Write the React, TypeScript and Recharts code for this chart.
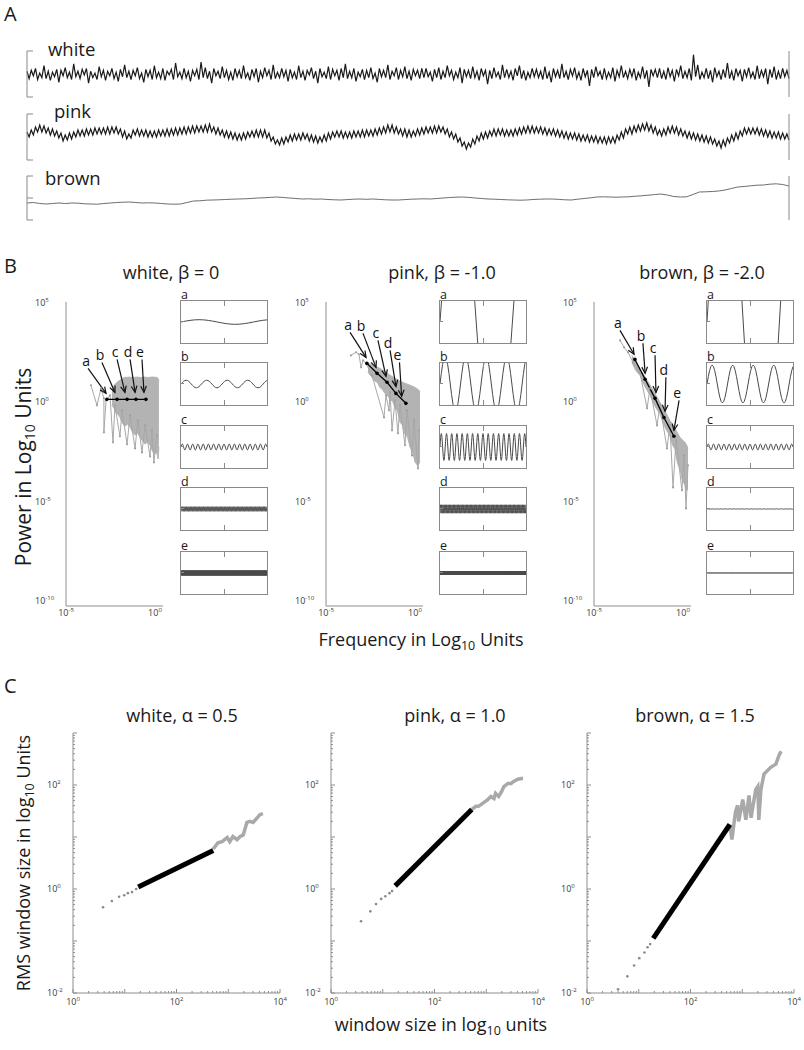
import React from 'react';
import { LineChart, ComposedChart, Line, Area, XAxis, YAxis, ReferenceLine } from 'recharts';

const FONT = '"Open Sans", "DejaVu Sans", sans-serif';
const AXIS = '#8e8e8e';
const BRACKET = '#8a8a8a';
const CLOUD = '#b3b3b3';
const TICK_TEXT = '#3a3a3a';

// ---------- panel A: the three raw signals (arbitrary amplitude units) ----------
const WHITE_SIGNAL = [
  0.3, -0.5, 0.4, -0.2, 0.6, -0.6, 0.1, -0.4, 0.9, -0.5, 0.3, -0.7, 0.2, -0.3, 0.5, -0.9, 0.4, -0.2, 0.7, -0.4,
  0.2, -0.6, 1.1, -0.3, 0.3, -0.5, 0.5, -0.1, 0.6, -1.0, 0.3, -0.4, 0.1, -0.6, 0.8, -0.3, 0.4, -0.7, 0.3, -0.2,
  0.6, -0.5, 0.2, -0.8, 0.5, -0.3, 1.0, -0.4, 0.3, -0.6, 0.4, -0.2, 0.7, -0.5, 0.1, -0.9, 0.5, -0.3, 0.4, -0.6,
  0.9, -0.4, 0.2, -0.5, 0.6, -0.7, 0.3, -0.1, 0.5, -0.6, 1.2, -0.3, 0.2, -0.5, 0.6, -0.4, 0.3, -0.8, 0.4, -0.2,
  0.5, -0.6, 1.3, -0.4, 0.7, -0.5, 0.3, -1.0, 0.6, -0.2, 0.3, -0.5, 0.8, -0.4, 0.4, -0.6, 0.2, -0.7, 0.6, -0.3,
  0.4, -0.5, 0.9, -0.4, 0.1, -0.7, 0.5, -0.3, 0.6, -0.9, 0.3, -0.4, 0.7, -0.2, 0.4, -0.6, 1.0, -0.5, 0.2, -0.4,
  0.6, -0.3, 0.4, -0.8, 0.5, -0.4, 0.2, -0.6, 0.9, -0.4, 0.3, -0.7, 0.4, -0.1, 0.7, -0.5, 0.3, -1.0, 0.6, -0.3,
  0.2, -0.5, 0.8, -0.6, 0.5, -0.2, 0.4, -0.7, 0.6, -0.4, 1.1, -0.5, 0.3, -0.4, 0.6, -0.8, 0.2, -0.3, 0.5, -0.6,
  0.4, -0.4, 0.7, -0.5, 0.1, -0.9, 0.6, -0.3, 0.4, -0.4, 1.0, -0.6, 0.3, -0.2, 0.7, -0.6, 0.4, -0.3, 0.8, -0.5,
  0.3, -0.7, 0.5, -0.2, 0.4, -0.5, 0.6, -0.4, 0.6, -0.3, 0.2, -0.8, 0.5, -0.4, 0.7, -0.6, 0.3, -0.4, 0.9, -0.2,
  0.4, -0.6, 0.2, -0.4, 0.7, -1.0, 0.5, -0.3, 0.4, -0.5, 0.8, -0.4, 0.3, -0.7, 0.6, -0.2, 0.4, -1.1, 0.4, -0.5,
  0.7, -0.3, 0.2, -0.6, 1.0, -0.4, 0.5, -0.4, 0.3, -0.7, 0.6, -0.2, 0.9, -0.5, 0.4, -0.7, 0.2, -0.4, 0.6, -0.3,
  0.5, -0.4, 0.3, -0.6, 0.8, -0.5, 0.2, -0.9, 0.6, -0.3, 0.4, -0.5, 1.1, -0.4, 0.3, -0.6, 0.5, -0.2, 0.7, -0.5,
  0.2, -0.7, 0.6, -0.3, 0.4, -1.3, 0.5, -0.4, 0.8, -0.2, 0.3, -0.6, 0.6, -0.5, 0.2, -0.4, 0.7, -0.8, 0.4, -0.3,
  0.9, -0.4, 0.3, -0.5, 0.5, -0.3, 0.6, -0.7, 0.2, -0.4, 0.8, -0.5, 0.4, -1.4, 0.5, -0.2, 0.5, -0.4, 0.6, -0.5,
  0.3, -0.6, 0.7, -0.3, 0.4, -0.8, 0.5, -0.2, 0.9, -0.5, 0.3, -0.4, 0.6, -0.7, 2.1, -0.3, 1.0, -0.6, 0.2, -0.4,
  0.6, -0.5, 0.4, -0.9, 0.7, -0.3, 0.3, -0.6, 0.5, -0.4, 1.2, -0.5, 0.3, -0.7, 0.6, -0.2, 0.4, -0.8, 0.5, -0.3,
  0.7, -0.4, 0.2, -0.6, 0.9, -0.5, 0.4, -0.3, 0.6, -1.1, 0.5, -0.4, 0.8, -0.6, 0.3, -0.5, 0.6, -0.3, 0.4, -0.5,
];

const PINK_SIGNAL = [
  0.5, 0.0, 0.7, 0.2, 1.0, 0.5, 1.2, 0.5, 1.1, 0.4, 0.9, 0.2, 0.8, 0.1, 0.6, -0.1, 0.4, -0.4, 0.2, -0.3,
  0.4, -0.2, 0.5, 0.0, 0.7, 0.1, 0.7, 0.1, 0.8, 0.2, 0.8, 0.2, 0.9, 0.3, 0.9, 0.3, 0.9, 0.3, 1.0, 0.3,
  1.0, 0.4, 1.0, 0.3, 0.8, 0.0, 0.6, -0.2, 0.3, -0.1, 0.7, 0.2, 0.8, 0.1, 0.7, 0.1, 0.7, 0.0, 0.6, 0.0,
  0.6, 0.0, 0.7, 0.1, 0.7, 0.1, 0.8, 0.1, 0.8, 0.2, 0.9, 0.2, 0.9, 0.3, 1.0, 0.3, 1.0, 0.4, 1.1, 0.4,
  1.1, 0.5, 1.1, 0.5, 1.2, 0.5, 1.3, 0.5, 1.0, 0.3, 0.9, 0.2, 0.7, 0.0, 0.6, -0.1, 0.5, -0.2, 0.4, -0.3,
  0.3, -0.3, 0.4, -0.2, 0.5, 0.0, 0.6, 0.0, 0.7, 0.0, 0.7, 0.0, 0.7, -0.1, 0.4, -0.4, 0.0, -0.7, -0.3, -0.8,
  -0.1, -0.7, 0.0, -0.5, 0.2, -0.4, 0.3, -0.3, 0.3, -0.3, 0.4, -0.2, 0.3, -0.4, 0.2, -0.5, 0.1, -0.6, 0.0, -0.5,
  0.2, -0.4, 0.4, -0.2, 0.5, 0.0, 0.6, 0.0, 0.6, -0.1, 0.5, -0.1, 0.5, -0.1, 0.6, 0.0, 0.6, 0.0, 0.7, 0.0,
  0.7, 0.1, 0.7, 0.1, 0.8, 0.2, 0.9, 0.3, 1.0, 0.4, 1.2, 0.5, 1.2, 0.4, 1.0, 0.3, 0.8, 0.1, 0.8, 0.0,
  0.7, 0.0, 0.6, 0.1, 0.8, 0.2, 0.9, 0.3, 1.0, 0.4, 1.0, 0.4, 1.1, 0.4, 1.1, 0.5, 1.0, 0.3, 0.8, 0.0,
  0.5, -0.2, 0.3, -0.5, -0.1, -0.9, -0.5, -1.2, -0.6, -1.0, -0.2, -0.7, 0.1, -0.4, 0.4, -0.2, 0.5, -0.1, 0.6, 0.1,
  0.8, 0.1, 0.8, 0.2, 0.8, 0.1, 0.7, 0.1, 0.7, 0.1, 0.8, 0.2, 0.9, 0.3, 1.0, 0.4, 1.1, 0.4, 1.1, 0.4,
  1.0, 0.4, 1.0, 0.3, 0.9, 0.2, 0.8, 0.2, 0.8, 0.1, 0.7, 0.0, 0.6, -0.1, 0.5, -0.2, 0.4, -0.2, 0.4, -0.3,
  0.3, -0.4, 0.2, -0.4, 0.2, -0.5, 0.1, -0.5, 0.1, -0.6, 0.0, -0.6, 0.0, -0.7, 0.0, -0.6, 0.0, -0.6, 0.2, -0.3,
  0.5, -0.1, 0.8, 0.3, 1.0, 0.3, 1.1, 0.5, 1.2, 0.6, 1.3, 0.7, 1.4, 0.6, 1.2, 0.4, 1.0, 0.2, 0.7, 0.1,
  0.8, 0.2, 1.0, 0.4, 1.1, 0.4, 1.0, 0.2, 0.8, 0.1, 0.6, -0.1, 0.5, -0.2, 0.4, -0.3, 0.3, -0.4, 0.2, -0.5,
  0.1, -0.6, 0.0, -0.7, -0.2, -0.9, -0.4, -1.1, -0.3, -0.9, -0.1, -0.6, 0.2, -0.4, 0.4, -0.2, 0.6, 0.1, 0.9, 0.3,
  0.9, 0.3, 0.9, 0.3, 0.9, 0.2, 0.8, 0.1, 0.7, 0.0, 0.6, -0.1, 0.5, -0.1, 0.5, -0.2, 0.4, -0.2, 0.3, -0.3,
];

const BROWN_SIGNAL = [
  -0.5, -0.45, -0.55, -0.6, -0.55, -0.5, -0.55, -0.5, -0.52, -0.58, -0.6, -0.62, -0.55, -0.5, -0.45, -0.42, -0.4, -0.45, -0.5, -0.48,
  -0.5, -0.55, -0.6, -0.62, -0.6, -0.45, -0.3, -0.28, -0.22, -0.2, -0.18, -0.15, -0.12, -0.1, -0.08, -0.05, 0.0, 0.02, 0.06, 0.1,
  0.05, 0.0, -0.05, -0.1, -0.08, -0.12, -0.1, -0.15, -0.18, -0.2, -0.16, -0.12, -0.1, -0.13, -0.1, -0.14, -0.18, -0.2, -0.2, -0.16,
  -0.12, -0.1, -0.08, -0.1, -0.05, 0.0, 0.05, 0.08, 0.1, 0.06, 0.0, -0.05, -0.1, -0.12, -0.15, -0.18, -0.2, -0.22, -0.2, -0.15,
  -0.12, -0.1, -0.1, -0.14, -0.18, -0.2, -0.12, -0.05, 0.02, 0.1, 0.12, 0.1, 0.08, 0.1, 0.12, 0.18, 0.22, 0.28, 0.34, 0.4,
  0.3, 0.15, 0.1, 0.12, 0.35, 0.6, 0.62, 0.65, 0.7, 0.8, 0.95, 1.1, 1.15, 1.22, 1.28, 1.3, 1.38, 1.42, 1.35, 1.2,
];

// ---------- panel B: spectra in log10 frequency / log10 power ----------
const PEAK_FREQ = [-2.7, -2.13, -1.57, -1.07, -0.51];
const PEAK_LABELS = ['a', 'b', 'c', 'd', 'e'];
const WHITE_PEAK_POWER = [0.1, 0.1, 0.1, 0.1, 0.1];
const PINK_PEAK_POWER = [1.91, 1.41, 0.96, 0.4, -0.1];
const BROWN_PEAK_POWER = [2.11, 1.11, 0.15, -0.81, -1.76];

const WHITE_BAND_X = [-2.42, -2.3, -2.19, -2.08, -1.97, -1.83, -1.69, -1.55, -1.4, -1.26, -1.12, -0.98, -0.84, -0.7, -0.56, -0.42, -0.28, -0.14, 0.0, 0.1, 0.17, 0.22];
const WHITE_BAND_HI = [0.65, 0.8, 0.91, 1.0, 1.06, 1.15, 1.21, 1.21, 1.22, 1.2, 1.21, 1.22, 1.2, 1.21, 1.22, 1.2, 1.21, 1.22, 1.21, 1.2, 1.16, 1.0];
const WHITE_BAND_LO = [-0.2, -0.35, -0.6, -0.65, -0.8, -1.1, -1.25, -1.15, -1.3, -1.55, -1.7, -1.6, -1.8, -2.0, -2.15, -2.05, -2.2, -2.5, -2.65, -2.55, -2.9, -2.3];
const WHITE_SPARSE: [number, number][] = [
  [-3.6, 0.81], [-3.26, -0.2], [-3.03, 0.65], [-2.87, 0.15], [-2.87, -1.56], [-2.75, 0.05], [-2.53, 0.3],
  [-2.36, -2.06], [-2.25, -0.2], [-1.97, -1.76], [-1.85, -0.45], [-1.57, -2.16], [-1.4, -0.7], [-1.12, -2.37],
  [-0.96, -0.96], [-0.73, -2.57], [-0.56, -1.21], [-0.28, -2.77], [-0.17, -1.46], [-0.06, -3.07], [0.11, -1.71],
];

const PINK_BAND_X = [-2.64, -2.45, -2.25, -2.11, -1.97, -1.83, -1.69, -1.55, -1.4, -1.26, -1.12, -0.98, -0.84, -0.7, -0.56, -0.42, -0.28, -0.14, 0.0, 0.17, 0.28];
const PINK_BAND_HI = [1.91, 1.85, 1.76, 1.71, 1.66, 1.58, 1.51, 1.42, 1.31, 1.24, 1.16, 1.08, 1.01, 0.96, 0.91, 0.86, 0.81, 0.76, 0.7, 0.6, 0.5];
const PINK_BAND_LO = [1.46, 1.25, 1.02, 0.95, 0.7, 0.6, 0.4, 0.3, 0.1, 0.0, -0.3, -0.5, -1.05, -1.2, -1.65, -1.8, -2.3, -2.5, -3.05, -3.25, -3.0];
const PINK_SPARSE: [number, number][] = [
  [-3.6, 2.31], [-3.31, 2.47], [-3.15, 2.37], [-3.03, 1.71], [-2.92, 2.06], [-2.75, 1.91], [-2.42, 1.31],
  [-1.74, -0.81], [-1.63, 0.3], [-1.46, -0.45], [-1.4, 0.45], [-1.29, -1.46], [-1.12, 0.05], [-0.96, -1.61],
  [-0.84, -0.2], [-0.56, -2.21], [-0.45, -0.45], [-0.17, -2.72], [-0.06, -0.96], [0.17, -3.37], [0.22, -1.46],
];

const BROWN_BAND_X = [-2.87, -2.65, -2.42, -2.14, -1.85, -1.57, -1.29, -1.01, -0.73, -0.59, -0.45, -0.31, -0.17, -0.03, 0.11, 0.2, 0.28];
const BROWN_BAND_HI = [2.31, 2.0, 1.66, 1.24, 0.81, 0.38, -0.05, -0.5, -0.96, -1.15, -1.36, -1.6, -1.81, -1.95, -2.06, -2.2, -2.37];
const BROWN_BAND_LO = [1.96, 1.55, 1.31, 0.75, 0.3, -0.25, -0.65, -1.3, -1.75, -2.2, -2.4, -3.1, -3.4, -4.0, -4.2, -4.5, -4.4];
const BROWN_SPARSE: [number, number][] = [
  [-3.54, 3.07], [-3.31, 2.72], [-3.09, 2.47], [-2.81, 1.96], [-2.42, 1.46], [-2.02, -0.35], [-1.85, 0.65],
  [-1.46, -1.21], [-1.29, -0.2], [-0.9, -2.37], [-0.73, -1.21], [-0.56, -4.33], [-0.39, -1.96], [-0.06, -4.48],
  [0.06, -2.72], [0.17, -5.39], [0.28, -3.22],
];

// arrow start (label) and tip, in the same log units
const WHITE_ARROWS = [[-3.76, 1.66, -2.75, 0.4], [-2.98, 1.96, -2.25, 0.45], [-2.13, 2.11, -1.69, 0.45], [-1.4, 2.11, -1.12, 0.45], [-0.73, 2.11, -0.62, 0.45]];
const PINK_ARROWS = [[-3.65, 3.47, -2.75, 2.21], [-2.92, 3.42, -2.19, 1.71], [-2.08, 3.07, -1.63, 1.26], [-1.4, 2.57, -1.07, 0.75], [-0.87, 1.96, -0.75, 0.25]];
const BROWN_ARROWS = [[-3.54, 3.57, -2.75, 2.37], [-2.25, 2.92, -2.13, 1.41], [-1.57, 2.32, -1.52, 0.45], [-0.96, 1.21, -1.01, -0.5], [-0.22, 0.05, -0.51, -1.46]];

// sine components shown in the small panels
const SINE_CYCLE = [0, 0.383, 0.707, 0.924, 1, 0.924, 0.707, 0.383, 0, -0.383, -0.707, -0.924, -1, -0.924, -0.707, -0.383];
const INSET_CYCLES = [1.2, 4.2, 16.5, 66, 264];
const WHITE_INSET_AMP = [0.11, 0.18, 0.14, 0.11, 0.11];
const PINK_INSET_AMP = [7.8, 1.3, 0.64, 0.2, 0.09];
const BROWN_INSET_AMP = [9.4, 0.9, 0.14, 0.012, 0.006];
const INSET_TOPS = [300, 362, 425, 487, 551];

// ---------- panel C: DFA, log10 window size / log10 RMS ----------
const WHITE_DFA_DOTS: [number, number][] = [[0.58, -0.35], [0.75, -0.23], [0.89, -0.15], [0.99, -0.12], [1.06, -0.08], [1.14, -0.06], [1.22, 0.0]];
const WHITE_DFA_FIT: [number, number][] = [[1.26, 0.04], [2.71, 0.74]];
const WHITE_DFA_TAIL: [number, number][] = [
  [2.71, 0.77], [2.8, 0.89], [2.88, 0.91], [2.98, 0.99], [3.03, 0.91], [3.09, 1.01], [3.17, 0.95], [3.23, 1.01],
  [3.29, 1.04], [3.36, 1.28], [3.42, 1.3], [3.48, 1.28], [3.56, 1.37], [3.61, 1.43], [3.67, 1.45],
];
const PINK_DFA_DOTS: [number, number][] = [[0.58, -0.62], [0.76, -0.43], [0.87, -0.29], [0.97, -0.19], [1.05, -0.14], [1.13, -0.08], [1.18, -0.04]];
const PINK_DFA_FIT: [number, number][] = [[1.24, 0.06], [2.72, 1.53]];
const PINK_DFA_TAIL: [number, number][] = [
  [2.72, 1.53], [2.8, 1.59], [2.85, 1.59], [2.95, 1.66], [3.03, 1.72], [3.09, 1.78], [3.15, 1.74], [3.18, 1.84],
  [3.24, 1.78], [3.3, 1.88], [3.34, 1.97], [3.42, 2.03], [3.48, 2.03], [3.53, 2.07], [3.61, 2.11], [3.71, 2.13],
];
const BROWN_DFA_DOTS: [number, number][] = [[0.6, -1.93], [0.78, -1.68], [0.91, -1.47], [1.01, -1.33], [1.11, -1.22], [1.17, -1.12], [1.22, -1.06]];
const BROWN_DFA_FIT: [number, number][] = [[1.28, -0.95], [2.76, 1.24]];
const BROWN_DFA_TAIL: [number, number][] = [
  [2.76, 1.24], [2.8, 0.95], [2.87, 1.49], [2.91, 1.61], [2.93, 1.3], [3.01, 1.72], [3.07, 1.33], [3.13, 1.8],
  [3.17, 1.37], [3.26, 1.91], [3.3, 1.97], [3.32, 1.33], [3.36, 1.91], [3.42, 2.21], [3.55, 2.34], [3.65, 2.4],
  [3.71, 2.57], [3.75, 2.65],
];

const SPEC_Y_TICKS = [5, 0, -5, -10];
const SPEC_X_TICKS = [-5, 0];
const DFA_X_LABELS = [0, 2, 4];
const DFA_Y_LABELS = [-2, 0, 2];
const LOG_MINOR = [0.301, 0.477, 0.602, 0.699, 0.778, 0.845, 0.903, 0.954];

const pts = (pairs: [number, number][]) => pairs.map(([x, y]) => ({ x, y }));

const decadeTicks = (lo: number, hi: number) => {
  const out: number[] = [];
  for (let d = lo; d < hi; d++) {
    out.push(d);
    LOG_MINOR.forEach((m) => out.push(d + m));
  }
  out.push(hi);
  return out;
};

const powText = (x: number, y: number, exp: number, anchor: string) => (
  <text x={x} y={y} fontSize={9} fill={TICK_TEXT} fontFamily={FONT} textAnchor={anchor}>
    10<tspan dy={-4} fontSize={6}>{exp}</tspan>
  </text>
);

const bracketTick = (dir: number) => (p: any) => (
  <line x1={p.x} y1={p.y} x2={p.x + dir * 6} y2={p.y} stroke={BRACKET} strokeWidth={1} />
);

function Trace({ top, height, values, bound, midTick, color, width }: any) {
  const rows = values.map((v: number, i: number) => ({ i, v }));
  const ticks = midTick ? [-bound, 0, bound] : [-bound, bound];
  return (
    <div style={{ position: 'absolute', left: 25, top }}>
      <LineChart width={766} height={height + 4} data={rows} margin={{ top: 2, right: 1, bottom: 2, left: 1 }}>
        <XAxis dataKey="i" type="number" domain={[0, values.length - 1]} hide />
        <YAxis type="number" domain={[-bound, bound]} width={1} ticks={ticks} interval={0} tickSize={0} tickMargin={0}
          tickLine={false} axisLine={{ stroke: BRACKET }} tick={bracketTick(1)} />
        <YAxis yAxisId="r" orientation="right" type="number" domain={[-bound, bound]} width={1} ticks={ticks} interval={0}
          tickSize={0} tickMargin={0} tickLine={false} axisLine={{ stroke: BRACKET }} tick={bracketTick(-1)} />
        <Line dataKey="v" stroke={color} strokeWidth={width} dot={false} isAnimationActive={false} />
      </LineChart>
    </div>
  );
}

const arrowShape = (label: string) => (p: any) => {
  const { x1, y1, x2, y2 } = p;
  const ang = Math.atan2(y2 - y1, x2 - x1);
  const L = 7;
  const h1 = [x2 - L * Math.cos(ang - 0.42), y2 - L * Math.sin(ang - 0.42)];
  const h2 = [x2 - L * Math.cos(ang + 0.42), y2 - L * Math.sin(ang + 0.42)];
  return (
    <g>
      <line x1={x1} y1={y1} x2={x2} y2={y2} stroke="#111" strokeWidth={1.2} />
      <polyline points={`${h1[0]},${h1[1]} ${x2},${y2} ${h2[0]},${h2[1]}`} fill="none" stroke="#111" strokeWidth={1.2} />
      <text x={x1 - 2} y={y1 - 2} textAnchor="middle" fontSize={14} fontFamily={FONT} fill="#111">{label}</text>
    </g>
  );
};

function Spectrum({ left, bandX, bandLo, bandHi, sparse, peakPower, arrows }: any) {
  const band = bandX.map((x: number, i: number) => ({ x, r: [bandLo[i], bandHi[i]] }));
  const peaks = PEAK_FREQ.map((x, i) => ({ x, y: peakPower[i] }));
  return (
    <div style={{ position: 'absolute', left, top: 297 }}>
      <ComposedChart width={153} height={329} margin={{ top: 5, right: 0, bottom: 0, left: 0 }}>
        <XAxis type="number" dataKey="x" domain={[-5, 0.45]} allowDataOverflow ticks={SPEC_X_TICKS} interval={0}
          height={20} tickSize={0} tickMargin={0} tickLine={false} axisLine={{ stroke: AXIS }}
          tick={(p: any) => powText(p.x, p.y + 10, p.payload.value, 'middle')} />
        <YAxis type="number" domain={[-10.3, 5]} allowDataOverflow width={46} ticks={SPEC_Y_TICKS} interval={0}
          tickSize={0} tickMargin={0} tickLine={false} axisLine={{ stroke: AXIS }}
          tick={(p: any) => powText(p.x - 31, p.y + 4, p.payload.value, 'start')} />
        <YAxis yAxisId="r" orientation="right" type="number" domain={[-10.3, 5]} width={10} ticks={[0, -5]} interval={0}
          tickSize={0} tickMargin={0} tickLine={false} axisLine={false}
          tick={(p: any) => <line x1={p.x - 1} x2={p.x + 3} y1={p.y} y2={p.y} stroke={AXIS} />} />
        <Area data={band} dataKey="r" type="linear" fill={CLOUD} fillOpacity={1} stroke={CLOUD} strokeWidth={1}
          dot={false} activeDot={false} isAnimationActive={false} />
        <Line data={pts(sparse)} dataKey="y" stroke="#a8a8a8" strokeWidth={1}
          dot={{ r: 1.1, fill: '#a0a0a0', stroke: 'none' }} activeDot={false} isAnimationActive={false} />
        <Line data={peaks} dataKey="y" stroke="#000" strokeWidth={1.3}
          dot={{ r: 1.8, fill: '#000', stroke: 'none' }} activeDot={false} isAnimationActive={false} />
        {arrows.map((a: number[], i: number) => (
          <ReferenceLine key={i} segment={[{ x: a[0], y: a[1] }, { x: a[2], y: a[3] }]} ifOverflow="visible"
            shape={arrowShape(PEAK_LABELS[i])} />
        ))}
      </ComposedChart>
    </div>
  );
}

function Inset({ left, top, cycles, amp }: any) {
  const n = Math.round(cycles * SINE_CYCLE.length);
  const rows = Array.from({ length: n + 1 }, (_, k) => ({ x: k / n, y: amp * SINE_CYCLE[k % SINE_CYCLE.length] }));
  const tick = { position: 'absolute' as const, background: BRACKET };
  return (
    <div style={{ position: 'absolute', left, top, width: 88, height: 44, boxSizing: 'border-box', border: `1px solid ${BRACKET}` }}>
      <LineChart width={86} height={42} data={rows} margin={{ top: 0, right: 0, bottom: 0, left: 0 }}>
        <XAxis dataKey="x" type="number" domain={[0, 1]} hide />
        <YAxis type="number" domain={[-1, 1]} allowDataOverflow hide />
        <Line dataKey="y" stroke="#4a4a4a" strokeWidth={1} dot={false} isAnimationActive={false} />
      </LineChart>
      <div style={{ ...tick, left: 43, top: 0, width: 1, height: 5 }} />
      <div style={{ ...tick, left: 43, bottom: 0, width: 1, height: 5 }} />
      <div style={{ ...tick, left: 0, top: 20, width: 3, height: 1 }} />
    </div>
  );
}

function Dfa({ left, dots, fit, tail }: any) {
  return (
    <div style={{ position: 'absolute', left, top: 729 }}>
      <ComposedChart width={259} height={284} margin={{ top: 4, right: 12, bottom: 0, left: 0 }}>
        <XAxis type="number" dataKey="x" domain={[0, 4]} allowDataOverflow ticks={decadeTicks(0, 4)} interval={0}
          height={20} tickSize={0} tickMargin={0} tickLine={false} axisLine={{ stroke: AXIS }}
          tick={(p: any) => {
            const v = p.payload.value;
            const major = Number.isInteger(v);
            return (
              <g>
                <line x1={p.x} x2={p.x} y1={p.y} y2={p.y - (major ? 4 : 2)} stroke={AXIS} />
                {DFA_X_LABELS.includes(v) && powText(p.x, p.y + 12, v, 'middle')}
              </g>
            );
          }} />
        <YAxis type="number" domain={[-2, 3]} allowDataOverflow width={40} ticks={decadeTicks(-2, 3)} interval={0}
          tickSize={0} tickMargin={0} tickLine={false} axisLine={{ stroke: AXIS }}
          tick={(p: any) => {
            const v = p.payload.value;
            const major = Number.isInteger(v);
            return (
              <g>
                <line x1={p.x} x2={p.x + (major ? 4 : 2)} y1={p.y} y2={p.y} stroke={AXIS} />
                {DFA_Y_LABELS.includes(v) && powText(p.x - 26, p.y + 3, v, 'start')}
              </g>
            );
          }} />
        <Line data={pts(dots)} dataKey="y" stroke="none" dot={{ r: 1.3, fill: '#8a8a8a', stroke: 'none' }}
          activeDot={false} isAnimationActive={false} />
        <Line data={pts(tail)} dataKey="y" stroke="#a9a9a9" strokeWidth={3.5} dot={false} activeDot={false}
          isAnimationActive={false} />
        <Line data={pts(fit)} dataKey="y" stroke="#000" strokeWidth={5} dot={false} activeDot={false}
          isAnimationActive={false} />
      </ComposedChart>
    </div>
  );
}

const txt = { fontFamily: FONT, fill: '#1a1a1a' };

export default function App() {
  const insetCols = [
    { left: 180, amp: WHITE_INSET_AMP },
    { left: 439, amp: PINK_INSET_AMP },
    { left: 706, amp: BROWN_INSET_AMP },
  ];
  return (
    <div style={{ position: 'absolute', left: 0, top: 0, width: 804, height: 1050, background: '#fff', overflow: 'hidden' }}>
      <Trace top={49} height={46} values={WHITE_SIGNAL} bound={2.5} color="#1a1a1a" width={1.2} />
      <Trace top={112} height={46} values={PINK_SIGNAL} bound={2.3} color="#1a1a1a" width={1.2} />
      <Trace top={174} height={44} values={BROWN_SIGNAL} bound={2.2} midTick color="#6e6e6e" width={1} />

      <Spectrum left={20} bandX={WHITE_BAND_X} bandLo={WHITE_BAND_LO} bandHi={WHITE_BAND_HI} sparse={WHITE_SPARSE}
        peakPower={WHITE_PEAK_POWER} arrows={WHITE_ARROWS} />
      <Spectrum left={280} bandX={PINK_BAND_X} bandLo={PINK_BAND_LO} bandHi={PINK_BAND_HI} sparse={PINK_SPARSE}
        peakPower={PINK_PEAK_POWER} arrows={PINK_ARROWS} />
      <Spectrum left={548} bandX={BROWN_BAND_X} bandLo={BROWN_BAND_LO} bandHi={BROWN_BAND_HI} sparse={BROWN_SPARSE}
        peakPower={BROWN_PEAK_POWER} arrows={BROWN_ARROWS} />

      {insetCols.map((col, c) =>
        INSET_TOPS.map((top, r) => (
          <Inset key={`${c}-${r}`} left={col.left} top={top} cycles={INSET_CYCLES[r]} amp={col.amp[r]} />
        ))
      )}

      <Dfa left={33} dots={WHITE_DFA_DOTS} fit={WHITE_DFA_FIT} tail={WHITE_DFA_TAIL} />
      <Dfa left={291} dots={PINK_DFA_DOTS} fit={PINK_DFA_FIT} tail={PINK_DFA_TAIL} />
      <Dfa left={547} dots={BROWN_DFA_DOTS} fit={BROWN_DFA_FIT} tail={BROWN_DFA_TAIL} />

      <svg width={804} height={1050} style={{ position: 'absolute', left: 0, top: 0, pointerEvents: 'none' }}>
        <text x={4} y={21} fontSize={20} {...txt}>A</text>
        <text x={4} y={273} fontSize={20} {...txt}>B</text>
        <text x={4} y={693} fontSize={20} {...txt}>C</text>

        <text x={48} y={56} fontSize={18.5} {...txt}>white</text>
        <text x={54} y={118} fontSize={18.5} {...txt}>pink</text>
        <text x={45} y={185} fontSize={18.5} {...txt}>brown</text>

        <text x={171} y={279} fontSize={18} textAnchor="middle" {...txt}>white, β = 0</text>
        <text x={442} y={279} fontSize={18} textAnchor="middle" {...txt}>pink, β = -1.0</text>
        <text x={702} y={279} fontSize={18} textAnchor="middle" {...txt}>brown, β = -2.0</text>

        {insetCols.map((col, c) =>
          INSET_TOPS.map((top, r) => (
            <text key={`l${c}-${r}`} x={col.left + 1} y={top - 1} fontSize={12.5} {...txt}>{PEAK_LABELS[r]}</text>
          ))
        )}

        <text transform="translate(31,467) rotate(-90)" x={0} y={0} fontSize={21} textAnchor="middle" {...txt}>
          Power in Log<tspan dy={4} fontSize={14}>10</tspan><tspan dy={-4}> Units</tspan>
        </text>
        <text x={421} y={646} fontSize={18} textAnchor="middle" {...txt}>
          Frequency in Log<tspan dy={4} fontSize={12.5}>10</tspan><tspan dy={-4}> Units</tspan>
        </text>

        <text x={182} y={722} fontSize={18} textAnchor="middle" {...txt}>white, α = 0.5</text>
        <text x={455} y={722} fontSize={18} textAnchor="middle" {...txt}>pink, α = 1.0</text>
        <text x={695} y={722} fontSize={18} textAnchor="middle" {...txt}>brown, α = 1.5</text>

        <text transform="translate(30,863) rotate(-90)" x={0} y={0} fontSize={18} textAnchor="middle" {...txt}>
          RMS window size in log<tspan dy={4} fontSize={12.5}>10</tspan><tspan dy={-4}> Units</tspan>
        </text>
        <text x={441} y={1031} fontSize={18} textAnchor="middle" {...txt}>
          window size in log<tspan dy={4} fontSize={12.5}>10</tspan><tspan dy={-4}> units</tspan>
        </text>
      </svg>
    </div>
  );
}
